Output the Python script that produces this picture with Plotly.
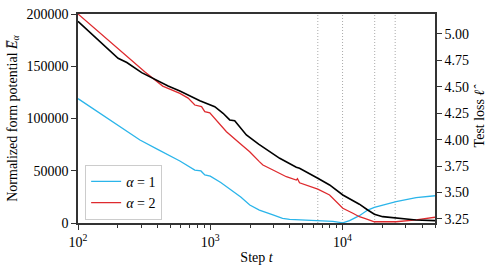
import plotly.graph_objects as go

# ---- data ----
steps_a1 = [100, 150, 200, 294, 400, 500, 589, 764, 850, 909, 1000, 1200, 1420, 1700, 1990, 2350,
            2978, 3520, 3980, 6500, 8450, 10050, 11300, 13400, 15500, 17400, 25400, 36000, 50000]
energy_a1 = [119000, 104100, 93500, 79400, 70400, 63900, 59300, 50700, 49800, 46000, 44800, 38700,
             31600, 24900, 17200, 12400, 7700, 4500, 3500, 2200, 1500, 200, 2200, 7000, 12400,
             15000, 20400, 24200, 26100]

steps_a2 = [100, 150, 200, 250, 321, 437, 589, 680, 764, 859, 909, 992, 1113, 1325, 1670, 1986,
            2350, 2500, 2978, 3350, 3760, 4470, 4560, 4730, 6500, 7980, 8950, 10050, 11970, 13400,
            14700, 17400, 25400, 36000, 50000]
energy_a2 = [200000, 180700, 167000, 156300, 144500, 131000, 124100, 119500, 112900, 111300, 106500,
             105500, 98600, 87400, 76300, 68200, 58700, 55500, 50700, 47600, 44300, 41100, 42500,
             38500, 32400, 26800, 20400, 14100, 9300, 6000, 4500, 1200, 1200, 2900, 5500]

steps_loss = [100, 146, 201, 234, 303, 480, 589, 834, 1081, 1250, 1403, 1530, 1875, 2320, 2813, 3350,
              4470, 4730, 6500, 7980, 10050, 11300, 13400, 15500, 17400, 20100, 25400, 36000, 50000]
test_loss = [5.12, 4.935, 4.77, 4.73, 4.634, 4.508, 4.461, 4.369, 4.312, 4.25, 4.187, 4.18, 4.045,
             3.958, 3.887, 3.824, 3.739, 3.73, 3.635, 3.572, 3.477, 3.44, 3.39, 3.335, 3.295, 3.272,
             3.257, 3.241, 3.234]

marker_steps = [6500, 10000, 17500, 25000]

x_tickvals = [100, 1000, 10000]
x_ticktext = ["10<sup>2</sup>", "10<sup>3</sup>", "10<sup>4</sup>"]
y_tickvals = [0, 50000, 100000, 150000, 200000]
y2_tickvals = [3.25, 3.5, 3.75, 4.0, 4.25, 4.5, 4.75, 5.0]
y2_ticktext = ["3.25", "3.50", "3.75", "4.00", "4.25", "4.50", "4.75", "5.00"]

FONT = "Liberation Serif, Times New Roman, serif"
AX = "#333333"

fig = go.Figure()
fig.add_trace(go.Scatter(x=steps_a1, y=energy_a1, mode="lines", name="<i>α</i> = 1",
                         line=dict(color="#2BB5EA", width=1.3)))
fig.add_trace(go.Scatter(x=steps_a2, y=energy_a2, mode="lines", name="<i>α</i> = 2",
                         line=dict(color="#DE2A2E", width=1.3)))
fig.add_trace(go.Scatter(x=steps_loss, y=test_loss, mode="lines", showlegend=False,
                         line=dict(color="black", width=1.6), yaxis="y2"))

for s in marker_steps:
    fig.add_shape(type="line", xref="x", yref="paper", x0=s, x1=s, y0=0, y1=1,
                  line=dict(color="#aaaaaa", width=1, dash="1px,2px"), layer="below")

minor_vals = [m * d for d in [100, 1000, 10000] for m in range(2, 10)]

fig.update_layout(
    width=498, height=276,
    margin=dict(l=78, r=63, t=14, b=53),
    paper_bgcolor="white", plot_bgcolor="white",
    font=dict(family=FONT, size=14, color="black"),
    xaxis=dict(type="log", range=[2, 4.69897], tickvals=x_tickvals, ticktext=x_ticktext,
               ticks="outside", ticklen=5, tickcolor=AX, showgrid=False, zeroline=False,
               showline=True, linecolor=AX, linewidth=1.5, mirror=True, automargin=False,
               minor=dict(tickvals=minor_vals, ticks="outside", ticklen=3, tickcolor=AX, showgrid=False),
               title=dict(text="Step <i>t</i>", standoff=4, font=dict(size=14))),
    yaxis=dict(range=[0, 200000], tickvals=y_tickvals, tickformat="d", automargin=False,
               ticklabeloverflow="allow",
               ticks="outside", ticklen=5, tickcolor=AX, showgrid=False, zeroline=False,
               showline=True, linecolor=AX, linewidth=1.5,
               title=dict(text="Normalized form potential <i>E̅</i><sub><i>α</i></sub>", standoff=6,
                          font=dict(size=14))),
    yaxis2=dict(range=[3.212, 5.189], overlaying="y", side="right", tickvals=y2_tickvals,
                ticktext=y2_ticktext, ticks="outside", ticklen=5, tickcolor=AX, showgrid=False,
                zeroline=False, showline=True, linecolor=AX, linewidth=1.5, automargin=False,
                title=dict(text="Test loss <i>ℓ̂</i>", standoff=6, font=dict(size=14))),
    legend=dict(x=0.02, y=0.015, xanchor="left", yanchor="bottom", bgcolor="rgba(255,255,255,0.85)",
                bordercolor="#cccccc", borderwidth=1, font=dict(size=14, family=FONT)),
)

fig.write_html("out.html", config={"displayModeBar": False},
               post_script="document.body.style.margin='0px';")
